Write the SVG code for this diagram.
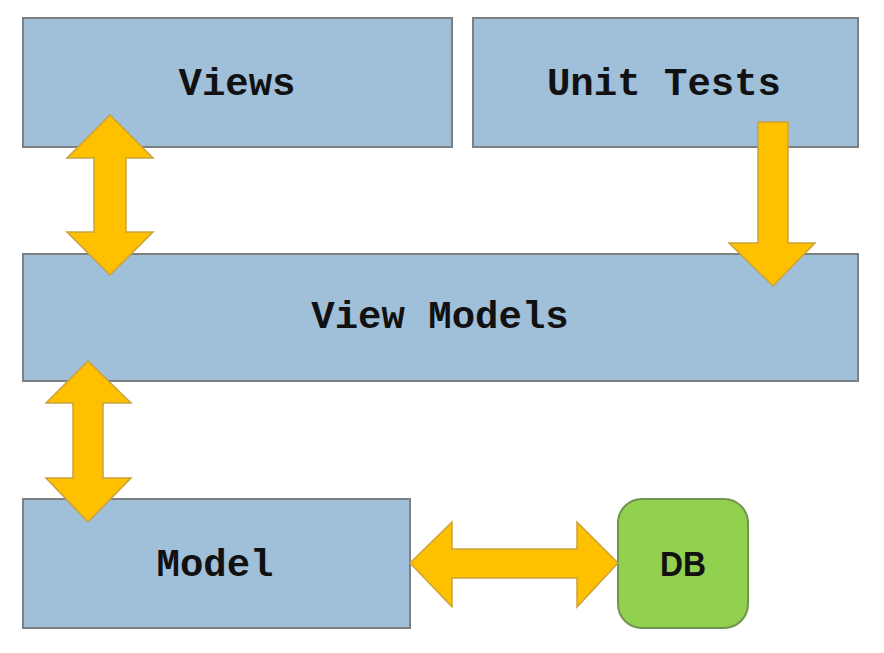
<svg xmlns="http://www.w3.org/2000/svg" width="884" height="653" viewBox="0 0 884 653">
<style>
.box{fill:#a0bfd9;stroke:#7f7f7f;stroke-width:2}
.db{fill:#92d050;stroke:#71944f;stroke-width:2}
.arr{fill:#ffc000;stroke:#c9a23c;stroke-width:1.5;stroke-linejoin:miter}
.lbl{font-family:"Liberation Mono","DejaVu Sans Mono",monospace;font-weight:bold;font-size:39px;fill:#111;text-anchor:middle}
.lbl2{font-family:"Liberation Sans",Arial,sans-serif;font-weight:bold;font-size:35px;fill:#111;text-anchor:middle}
</style>
<rect width="884" height="653" fill="#ffffff"/>
<g id="views"><rect class="box" x="23" y="18" width="429" height="129"/><text class="lbl" x="237" y="95">Views</text></g>
<g id="unit-tests"><rect class="box" x="473" y="18" width="385" height="129"/><text class="lbl" x="664" y="95">Unit Tests</text></g>
<g id="view-models"><rect class="box" x="23" y="254" width="835" height="127"/><text class="lbl" x="440" y="328">View Models</text></g>
<g id="model"><rect class="box" x="23" y="499" width="387" height="129"/><text class="lbl" x="215" y="576">Model</text></g>
<g id="db"><rect class="db" x="618" y="499" width="130" height="129" rx="24"/><text class="lbl2" x="683" y="576" textLength="46" lengthAdjust="spacingAndGlyphs">DB</text></g>
<g id="connectors">
<path class="arr" d="M110,115 L153,158 L126,158 L126,232 L153,232 L110,275 L67,232 L94,232 L94,158 L67,158 Z"/>
<path class="arr" d="M758,122 L788,122 L788,243 L815,243 L773,286 L729,243 L758,243 Z"/>
<path class="arr" d="M88,361 L131,403 L103,403 L103,478 L131,478 L88,522 L46,478 L73,478 L73,403 L46,403 Z"/>
<path class="arr" d="M410,563 L452,522 L452,549 L577,549 L577,522 L618,563 L577,607 L577,578 L452,578 L452,607 Z"/>
</g>
</svg>
